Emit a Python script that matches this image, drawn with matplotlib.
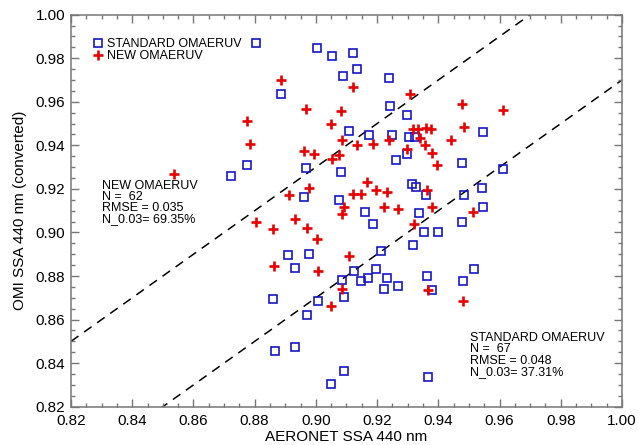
import matplotlib
matplotlib.use("Agg")
import matplotlib.pyplot as plt
from matplotlib.ticker import MultipleLocator, FormatStrFormatter

plt.rcParams['font.family'] = ['Liberation Sans', 'DejaVu Sans']

# STANDARD OMAERUV (blue squares)
std_x = [0.8804, 0.8776, 0.8723, 0.9003, 0.9053, 0.9121, 0.9133, 0.9088, 0.9240, 0.8886,
         0.9243, 0.9298, 0.9109, 0.9175, 0.9249, 0.9303, 0.9324, 0.9297, 0.9261, 0.8968,
         0.9081, 0.9315, 0.9328, 0.9360, 0.8961, 0.9076, 0.9545, 0.9476, 0.9611, 0.9542,
         0.9485, 0.9547, 0.9476, 0.9516, 0.9480, 0.9160, 0.9338, 0.9354, 0.9398, 0.9188,
         0.8910, 0.8978, 0.8932, 0.9214, 0.9318, 0.9125, 0.9195, 0.9085, 0.9147, 0.9170,
         0.9232, 0.9223, 0.9267, 0.9364, 0.9378, 0.9092, 0.9008, 0.8972, 0.8861, 0.8866,
         0.8931, 0.9092, 0.9050, 0.9367]
std_y = [0.9870, 0.9309, 0.9257, 0.9847, 0.9808, 0.9824, 0.9750, 0.9720, 0.9707, 0.9637,
         0.9579, 0.9539, 0.9467, 0.9449, 0.9449, 0.9438, 0.9438, 0.9358, 0.9334, 0.9294,
         0.9277, 0.9223, 0.9208, 0.9171, 0.9165, 0.9147, 0.9461, 0.9321, 0.9291, 0.9204,
         0.9171, 0.9116, 0.9049, 0.8830, 0.8779, 0.9093, 0.9089, 0.9004, 0.9004, 0.9040,
         0.8897, 0.8900, 0.8837, 0.8917, 0.8943, 0.8825, 0.8834, 0.8782, 0.8778, 0.8793,
         0.8791, 0.8740, 0.8753, 0.8801, 0.8736, 0.8703, 0.8683, 0.8621, 0.8694, 0.8456,
         0.8476, 0.8364, 0.8303, 0.8335]

# NEW OMAERUV (red plus)
new_x = [0.8537, 0.8776, 0.8785, 0.8886, 0.9120, 0.9307, 0.8968, 0.9081, 0.9050, 0.9086,
         0.9133, 0.9187, 0.9240, 0.9316, 0.9333, 0.9340, 0.9360, 0.9376, 0.9357, 0.9378,
         0.9397, 0.9442, 0.9297, 0.8962, 0.8994, 0.9053, 0.9076, 0.9168, 0.9362, 0.9196,
         0.9231, 0.9122, 0.9148, 0.8979, 0.8911, 0.9476, 0.9612, 0.9485, 0.9514, 0.9480,
         0.9093, 0.9086, 0.9223, 0.9267, 0.9378, 0.9322, 0.8803, 0.8861, 0.8932, 0.8972,
         0.9003, 0.8864, 0.9008, 0.9109, 0.9367, 0.9086, 0.9048]
new_y = [0.9270, 0.9513, 0.9404, 0.9700, 0.9666, 0.9636, 0.9565, 0.9556, 0.9498, 0.9426,
         0.9403, 0.9407, 0.9426, 0.9475, 0.9476, 0.9433, 0.9480, 0.9476, 0.9403, 0.9365,
         0.9309, 0.9426, 0.9383, 0.9375, 0.9361, 0.9338, 0.9355, 0.9233, 0.9196, 0.9193,
         0.9188, 0.9176, 0.9176, 0.9204, 0.9170, 0.9590, 0.9564, 0.9484, 0.9096, 0.8687,
         0.9119, 0.9086, 0.9116, 0.9108, 0.9116, 0.9038, 0.9050, 0.9017, 0.9061, 0.9020,
         0.8972, 0.8848, 0.8822, 0.8893, 0.8736, 0.8740, 0.8663]

offset = 0.03
xmin, xmax = 0.82, 1.00

left_lines = ["NEW OMAERUV", "N =  62", "RMSE = 0.035", "N_0.03= 69.35%"]
right_lines = ["STANDARD OMAERUV", "N =  67", "RMSE = 0.048", "N_0.03= 37.31%"]

fig = plt.figure(figsize=(6.38, 4.45), dpi=100)
ax = fig.add_axes([0.1113, 0.0861, 0.8636, 0.8809])

ax.plot([xmin, xmax], [xmin + offset, xmax + offset], ls=(0, (6, 4.5)), color='black', lw=1.1, zorder=1)
ax.plot([xmin, xmax], [xmin - offset, xmax - offset], ls=(0, (6, 4.5)), color='black', lw=1.1, zorder=1)

ax.plot(std_x, std_y, ls='none', marker='s', ms=5.2, mfc='none', mec='#1515c8', mew=1.2,
        label='STANDARD OMAERUV', zorder=3)
ax.plot(new_x, new_y, ls='none', marker='+', ms=6.5, mec='#e80000', mew=1.9,
        label='NEW OMAERUV', zorder=4)

ax.set_xlim(xmin, xmax)
ax.set_ylim(xmin, xmax)
ax.xaxis.set_major_locator(MultipleLocator(0.02))
ax.yaxis.set_major_locator(MultipleLocator(0.02))
ax.xaxis.set_minor_locator(MultipleLocator(0.005))
ax.yaxis.set_minor_locator(MultipleLocator(0.005))
ax.xaxis.set_major_formatter(FormatStrFormatter('%.2f'))
ax.yaxis.set_major_formatter(FormatStrFormatter('%.2f'))
ax.tick_params(which='both', direction='in', top=True, right=True, color='#777777', width=1.0)
ax.tick_params(which='major', length=5.5, labelsize=11)
ax.tick_params(axis='x', which='major', pad=5)
ax.tick_params(axis='y', which='major', pad=4)
ax.tick_params(which='minor', length=3)
for s in ax.spines.values():
    s.set_color('#777777')
    s.set_linewidth(1.1)

ax.set_xlabel('AERONET SSA 440 nm', fontsize=11, labelpad=2)
ax.set_ylabel('OMI SSA 440 nm (converted)', fontsize=11, labelpad=6)

leg = ax.legend(loc='upper left', bbox_to_anchor=(0.041, 0.94), frameon=False, fontsize=9,
                handlelength=0.7, handletextpad=0.35, labelspacing=0.0, borderpad=0,
                borderaxespad=0)

ax.text(0.0565, 0.5776, "\n".join(left_lines), transform=ax.transAxes, fontsize=9,
        va='top', ha='left', linespacing=0.89)
ax.text(0.724, 0.191, "\n".join(right_lines), transform=ax.transAxes, fontsize=9,
        va='top', ha='left', linespacing=0.93)

fig.savefig('out.png', dpi=100)
